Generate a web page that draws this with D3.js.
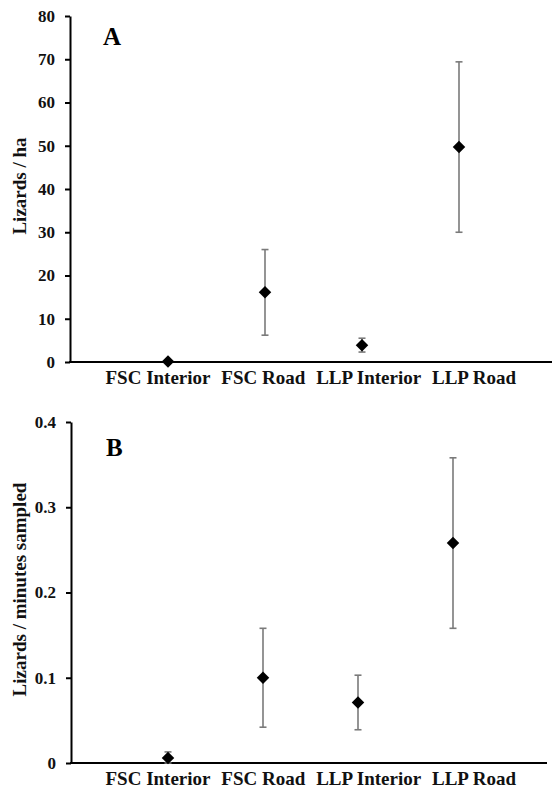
<!DOCTYPE html>
<html>
<head>
<meta charset="utf-8">
<script src="https://cdn.jsdelivr.net/npm/d3@7"></script>
<style>
  html, body { margin: 0; padding: 0; background: #fff; }
  svg { display: block; font-family: "Liberation Serif", "Times New Roman", serif; font-weight: bold; }
</style>
</head>
<body>
<div id="chart"></div>
<script>
// categories along the x axis (shared by both panels)
const categories = ["FSC Interior", "FSC Road", "LLP Interior", "LLP Road"];

// panel A: lizard density (lizards / ha), mean and +/- error
const densityMean = [0.1, 16.1, 3.9, 49.7];
const densityErr = [0, 9.9, 1.6, 19.7];
const densityTicks = [0, 10, 20, 30, 40, 50, 60, 70, 80];

// panel B: encounter rate (lizards / minutes sampled), mean and +/- error
const rateMean = [0.006, 0.100, 0.071, 0.258];
const rateErr = [0.007, 0.058, 0.032, 0.100];
const rateTicks = [0, 0.1, 0.2, 0.3, 0.4];

const width = 552;
const height = 788;

const svg = d3.select("#chart")
    .append("svg")
    .attr("width", width)
    .attr("height", height);

function drawPanel(opts) {
    const g = svg.append("g");

    const y = d3.scaleLinear()
        .domain([0, d3.max(opts.ticks)])
        .range([opts.bottom, opts.top]);

    const x = d3.scalePoint()
        .domain(categories)
        .range(opts.pointRange);

    const xLabel = d3.scalePoint()
        .domain(categories)
        .range([158, 474]);

    // y axis
    const yAxis = g.append("g")
        .attr("transform", `translate(${opts.axisX},0)`)
        .call(d3.axisLeft(y)
            .tickValues(opts.ticks)
            .tickFormat(opts.format)
            .tickSize(5)
            .tickSizeOuter(0)
            .tickPadding(10));
    yAxis.select(".domain").attr("stroke", "#000").attr("stroke-width", 2);
    yAxis.selectAll(".tick line").attr("stroke", "#000").attr("stroke-width", 2);
    yAxis.selectAll(".tick text")
        .attr("fill", "#111")
        .attr("font-family", "Liberation Serif")
        .attr("font-weight", "bold")
        .attr("font-size", 17);

    // x axis line
    g.append("line")
        .attr("x1", opts.axisX - 1)
        .attr("x2", opts.axisEnd)
        .attr("y1", y(0))
        .attr("y2", y(0))
        .attr("stroke", "#000")
        .attr("stroke-width", 2.2);

    // category labels
    g.selectAll(".cat")
        .data(categories)
        .enter()
        .append("text")
        .attr("class", "cat")
        .attr("x", d => xLabel(d))
        .attr("y", y(0) + 22)
        .attr("text-anchor", "middle")
        .attr("font-size", 19)
        .attr("fill", "#111")
        .text(d => d);

    // y axis title
    g.append("text")
        .attr("transform", `translate(26,${(opts.top + opts.bottom) / 2 - 3}) rotate(-90)`)
        .attr("text-anchor", "middle")
        .attr("font-size", 19)
        .attr("fill", "#111")
        .text(opts.title);

    // panel letter
    g.append("text")
        .attr("x", opts.letterX)
        .attr("y", opts.letterY)
        .attr("font-size", 25)
        .attr("fill", "#000")
        .text(opts.letter);

    const rows = categories.map((c, i) => ({ cat: c, mean: opts.mean[i], err: opts.err[i] }));

    // error bars
    const bars = g.selectAll(".err")
        .data(rows.filter(d => d.err > 0))
        .enter()
        .append("g")
        .attr("class", "err")
        .attr("stroke", "#7a7a7a")
        .attr("stroke-width", 1.6);

    bars.append("line")
        .attr("x1", d => x(d.cat))
        .attr("x2", d => x(d.cat))
        .attr("y1", d => y(d.mean + d.err))
        .attr("y2", d => y(Math.max(0, d.mean - d.err)));

    bars.append("line")
        .attr("x1", d => x(d.cat) - 3.5)
        .attr("x2", d => x(d.cat) + 3.5)
        .attr("y1", d => y(d.mean + d.err))
        .attr("y2", d => y(d.mean + d.err));

    bars.append("line")
        .attr("x1", d => x(d.cat) - 3.5)
        .attr("x2", d => x(d.cat) + 3.5)
        .attr("y1", d => y(Math.max(0, d.mean - d.err)))
        .attr("y2", d => y(Math.max(0, d.mean - d.err)));

    // diamond markers
    g.selectAll(".pt")
        .data(rows)
        .enter()
        .append("path")
        .attr("class", "pt")
        .attr("d", d3.symbol(d3.symbolSquare, 78))
        .attr("transform", d => `translate(${x(d.cat)},${y(d.mean)}) rotate(45)`)
        .attr("fill", "#000");
}

drawPanel({
    mean: densityMean,
    err: densityErr,
    ticks: densityTicks,
    format: d3.format("d"),
    top: 16,
    bottom: 362,
    axisX: 70,
    axisEnd: 552,
    pointRange: [168, 459],
    title: "Lizards / ha",
    letter: "A",
    letterX: 103,
    letterY: 45
});

drawPanel({
    mean: rateMean,
    err: rateErr,
    ticks: rateTicks,
    format: d => d === 0 ? "0" : d3.format(".1f")(d),
    top: 422,
    bottom: 763,
    axisX: 71,
    axisEnd: 547,
    pointRange: [168, 453],
    title: "Lizards / minutes sampled",
    letter: "B",
    letterX: 106,
    letterY: 456
});
</script>
</body>
</html>
